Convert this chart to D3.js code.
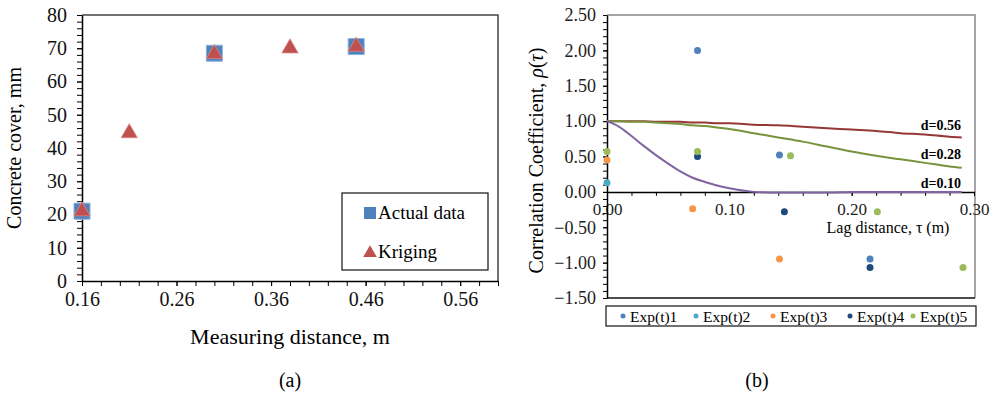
<!DOCTYPE html>
<html>
<head>
<meta charset="utf-8">
<script src="https://cdn.jsdelivr.net/npm/d3@7"></script>
<style>
  body { margin: 0; background: #fff; }
  svg { font-family: "Liberation Serif", "Times New Roman", serif; }
</style>
</head>
<body>
<svg id="chart" width="991" height="394"></svg>
<script>
// Data - panel (a)
const actualX = [0.16, 0.30, 0.45];
const actualY = [21, 68.5, 70.5];
const krigX = [0.16, 0.21, 0.30, 0.38, 0.45];
const krigY = [21, 44.5, 68.3, 70, 70.5];
const aXTicks = [0.16, 0.26, 0.36, 0.46, 0.56];
const aYTicks = [0, 10, 20, 30, 40, 50, 60, 70, 80];

// Data - panel (b), experimental points
const expNames = ["Exp(t)1", "Exp(t)2", "Exp(t)3", "Exp(t)4", "Exp(t)5"];
const expColors = ["#4f81bd", "#4bacc6", "#f79646", "#1f497d", "#9bbb59"];
const exp1Lag = [0.074, 0.141, 0.215];
const exp1Rho = [2.00, 0.52, -0.95];
const exp2Lag = [0.000];
const exp2Rho = [0.13];
const exp3Lag = [0.000, 0.070, 0.141];
const exp3Rho = [0.45, -0.24, -0.95];
const exp4Lag = [0.074, 0.145, 0.215];
const exp4Rho = [0.50, -0.28, -1.07];
const exp5Lag = [0.000, 0.074, 0.150, 0.221, 0.291];
const exp5Rho = [0.57, 0.57, 0.51, -0.28, -1.07];

// Data - panel (b), model curves
const curveLag = [0, 0.01, 0.02, 0.03, 0.04, 0.05, 0.06, 0.07, 0.08, 0.09, 0.10, 0.12, 0.14, 0.16, 0.18, 0.20, 0.22, 0.24, 0.26, 0.28, 0.29];
const rhoD056 = [1.00, 1.00, 1.00, 1.00, 0.99, 0.99, 0.99, 0.98, 0.98, 0.97, 0.97, 0.95, 0.94, 0.92, 0.90, 0.88, 0.86, 0.83, 0.81, 0.78, 0.77];
const rhoD028 = [1.00, 1.00, 0.99, 0.99, 0.98, 0.97, 0.96, 0.94, 0.93, 0.91, 0.89, 0.83, 0.77, 0.71, 0.64, 0.57, 0.51, 0.46, 0.41, 0.36, 0.34];
const rhoD010 = [1.00, 0.92, 0.79, 0.65, 0.52, 0.40, 0.29, 0.20, 0.14, 0.09, 0.05, 0.00, -0.01, -0.01, -0.01, 0.00, 0.00, 0.00, 0.00, 0.00, 0.00];
const curveNames = ["d=0.56", "d=0.28", "d=0.10"];
const curveColors = ["#953735", "#77933c", "#8064a2"];
const bXTicks = [0.00, 0.10, 0.20, 0.30];
const bYTicks = [2.5, 2.0, 1.5, 1.0, 0.5, 0.0, -0.5, -1.0, -1.5];

const svg = d3.select("#chart");

// ---------- Panel (a) ----------
const A = { left: 82, right: 498, top: 15, bottom: 281 };
const xA = d3.scaleLinear().domain([0.16, 0.60]).range([A.left, A.right]);
const yA = d3.scaleLinear().domain([0, 80]).range([A.bottom, A.top]);

// frame (top / right)
svg.append("path")
  .attr("d", `M${A.left},${A.top}H${A.right}V${A.bottom}`)
  .attr("fill", "none").attr("stroke", "#444").attr("stroke-width", 1.5);

// minor ticks
svg.append("g")
  .attr("transform", `translate(0,${A.bottom})`)
  .call(d3.axisBottom(xA).tickValues(d3.range(0.16, 0.601, 0.02)).tickSize(5).tickFormat(""))
  .call(g => g.select(".domain").remove());
svg.append("g")
  .attr("transform", `translate(${A.left},0)`)
  .call(d3.axisLeft(yA).tickValues(d3.range(0, 81, 2)).tickSize(5).tickFormat(""))
  .call(g => g.select(".domain").remove());

// main axes
svg.append("g")
  .attr("transform", `translate(0,${A.bottom})`)
  .call(d3.axisBottom(xA).tickValues(aXTicks).tickSize(5).tickPadding(6).tickSizeOuter(0).tickFormat(d3.format(".2f")))
  .call(g => g.selectAll("text").attr("font-size", 20).attr("font-family", "Liberation Serif").attr("fill", "#111"))
  .call(g => g.select(".domain").attr("stroke-width", 1.5));
svg.append("g")
  .attr("transform", `translate(${A.left},0)`)
  .call(d3.axisLeft(yA).tickValues(aYTicks).tickSize(5).tickPadding(10).tickSizeOuter(0))
  .call(g => g.selectAll("text").attr("font-size", 20).attr("font-family", "Liberation Serif").attr("fill", "#111"))
  .call(g => g.select(".domain").attr("stroke-width", 1.5));

// markers
const squareSym = d3.symbol().type(d3.symbolSquare).size(256);
const triSym = d3.symbol().type(d3.symbolTriangle).size(115);
svg.append("g").selectAll("path")
  .data(d3.zip(actualX, actualY))
  .join("path")
  .attr("transform", d => `translate(${xA(d[0])},${yA(d[1])})`)
  .attr("d", squareSym)
  .attr("fill", "#4f81bd").attr("stroke", "#8cb0dc").attr("stroke-width", 1);
svg.append("g").selectAll("path")
  .data(d3.zip(krigX, krigY))
  .join("path")
  .attr("transform", d => `translate(${xA(d[0])},${yA(d[1])})`)
  .attr("d", triSym)
  .attr("fill", "#c0504d").attr("stroke", "#d88a88").attr("stroke-width", 0.8);

// legend (a)
const legA = svg.append("g").attr("transform", "translate(342,193)");
legA.append("rect").attr("width", 146).attr("height", 77)
  .attr("fill", "#fff").attr("stroke", "#111").attr("stroke-width", 1.2);
legA.append("path").attr("transform", "translate(28,20)")
  .attr("d", d3.symbol().type(d3.symbolSquare).size(144)).attr("fill", "#4f81bd");
legA.append("text").attr("x", 36).attr("y", 26).attr("font-size", 19).text("Actual data");
legA.append("path").attr("transform", "translate(28,60)")
  .attr("d", d3.symbol().type(d3.symbolTriangle).size(80)).attr("fill", "#c0504d");
legA.append("text").attr("x", 36).attr("y", 65).attr("font-size", 19).text("Kriging");

// titles (a)
svg.append("text")
  .attr("transform", `translate(21,${(A.top + A.bottom) / 2}) rotate(-90)`)
  .attr("text-anchor", "middle").attr("font-size", 20).text("Concrete cover, mm");
svg.append("text").attr("x", 290).attr("y", 344)
  .attr("text-anchor", "middle").attr("font-size", 22).text("Measuring distance, m");
svg.append("text").attr("x", 290).attr("y", 387)
  .attr("text-anchor", "middle").attr("font-size", 20).text("(a)");

// ---------- Panel (b) ----------
const B = { left: 607, right: 974, top: 15, bottom: 298 };
const xB = d3.scaleLinear().domain([0, 0.30]).range([B.left, B.right]);
const yB = d3.scaleLinear().domain([-1.5, 2.5]).range([B.bottom, B.top]);

// frame (top / right grey, bottom dark)
svg.append("path")
  .attr("d", `M${B.left},${B.top}H${B.right + 1}V${B.bottom}`)
  .attr("fill", "none").attr("stroke", "#888").attr("stroke-width", 1.5);
svg.append("line")
  .attr("x1", B.left).attr("x2", B.right + 1).attr("y1", B.bottom).attr("y2", B.bottom)
  .attr("stroke", "#111").attr("stroke-width", 1.5);

// minor ticks
svg.append("g")
  .attr("transform", `translate(0,${yB(0)})`)
  .call(d3.axisBottom(xB).tickValues(d3.range(0, 0.301, 0.02)).tickSize(4).tickFormat(""))
  .call(g => g.select(".domain").remove());
svg.append("g")
  .attr("transform", `translate(${B.left},0)`)
  .call(d3.axisLeft(yB).tickValues(d3.range(-1.5, 2.51, 0.1)).tickSize(4).tickFormat(""))
  .call(g => g.select(".domain").remove());

// main axes
svg.append("g")
  .attr("transform", `translate(0,${yB(0)})`)
  .call(d3.axisBottom(xB).tickValues(bXTicks).tickSize(4).tickPadding(7).tickSizeOuter(0).tickFormat(d3.format(".2f")))
  .call(g => g.selectAll("text").attr("font-size", 17).attr("font-family", "Liberation Serif").attr("fill", "#222"))
  .call(g => g.select(".domain").attr("stroke-width", 1.5));
svg.append("g")
  .attr("transform", `translate(${B.left},0)`)
  .call(d3.axisLeft(yB).tickValues(bYTicks).tickSize(4).tickPadding(7).tickSizeOuter(0).tickFormat(d3.format(".2f")))
  .call(g => g.selectAll("text").attr("font-size", 18).attr("font-family", "Liberation Serif").attr("fill", "#222"))
  .call(g => g.select(".domain").attr("stroke-width", 1.5));

// model curves
const curveData = [rhoD056, rhoD028, rhoD010];
const line = d3.line()
  .x(d => xB(d[0]))
  .y(d => yB(d[1]))
  .curve(d3.curveMonotoneX);
curveData.forEach((rho, i) => {
  svg.append("path")
    .datum(d3.zip(curveLag, rho))
    .attr("d", line)
    .attr("fill", "none")
    .attr("stroke", curveColors[i])
    .attr("stroke-width", 2);
});

// curve labels
const labelRho = [0.88, 0.46, 0.05];
curveNames.forEach((name, i) => {
  svg.append("text")
    .attr("x", 961).attr("y", yB(labelRho[i]))
    .attr("text-anchor", "end").attr("font-size", 14).attr("font-weight", "bold")
    .text(name);
});

// experimental points
const expLag = [exp1Lag, exp2Lag, exp3Lag, exp4Lag, exp5Lag];
const expRho = [exp1Rho, exp2Rho, exp3Rho, exp4Rho, exp5Rho];
expNames.forEach((name, i) => {
  svg.append("g").selectAll("circle")
    .data(d3.zip(expLag[i], expRho[i]))
    .join("circle")
    .attr("cx", d => xB(d[0]))
    .attr("cy", d => yB(d[1]))
    .attr("r", 3.5)
    .attr("fill", expColors[i]);
});

// titles (b)
svg.append("text")
  .attr("transform", `translate(543,${(B.top + B.bottom) / 2 + 4}) rotate(-90)`)
  .attr("text-anchor", "middle").attr("font-size", 20)
  .call(t => {
    t.append("tspan").text("Correlation Coefficient, ");
    t.append("tspan").attr("font-style", "italic").text("ρ");
    t.append("tspan").text("(");
    t.append("tspan").attr("font-style", "italic").text("τ");
    t.append("tspan").text(")");
  });
svg.append("text").attr("x", 888).attr("y", 233)
  .attr("text-anchor", "middle").attr("font-size", 16).text("Lag distance, τ (m)");
svg.append("text").attr("x", 757).attr("y", 387)
  .attr("text-anchor", "middle").attr("font-size", 20).text("(b)");

// legend (b)
const legB = svg.append("g").attr("transform", "translate(606,306)");
legB.append("rect").attr("width", 370).attr("height", 20)
  .attr("fill", "#fff").attr("stroke", "#111").attr("stroke-width", 1.2);
const legDotX = [17, 90, 167, 244, 307];
expNames.forEach((name, i) => {
  legB.append("circle").attr("cx", legDotX[i]).attr("cy", 10).attr("r", 2.5).attr("fill", expColors[i]);
  legB.append("text").attr("x", legDotX[i] + 7).attr("y", 15.5).attr("font-size", 15.5).text(name);
});
</script>
</body>
</html>
